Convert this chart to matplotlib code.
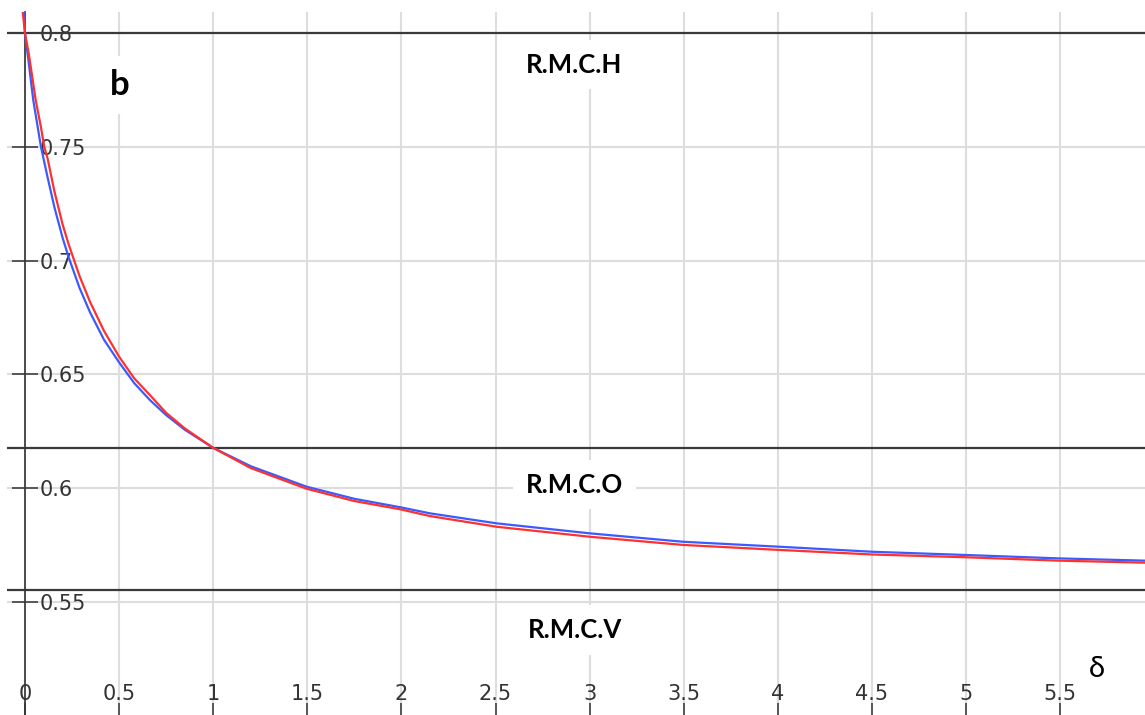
import matplotlib
matplotlib.use("Agg")
import matplotlib.pyplot as plt

# values
delta_blue = [-0.005, 0.0, 0.02, 0.044, 0.085, 0.12, 0.156, 0.2, 0.232, 0.29,
              0.345, 0.42, 0.5, 0.58, 0.664, 0.75, 0.85, 1.0, 1.2, 1.497, 1.75,
              1.993, 2.152, 2.506, 3.002, 3.498, 4.012, 4.504, 4.995, 5.49, 5.951]
b_blue = [0.8094, 0.800, 0.787, 0.7706, 0.750, 0.7367, 0.7236, 0.710, 0.7015,
          0.688, 0.6774, 0.6652, 0.6553, 0.6462, 0.6387, 0.6321, 0.6256, 0.6177,
          0.6096, 0.6006, 0.5953, 0.5916, 0.5889, 0.5845, 0.5801, 0.5764, 0.5742,
          0.5720, 0.5706, 0.5691, 0.5681]

delta_red = [-0.012, 0.0, 0.02, 0.057, 0.085, 0.1026, 0.12, 0.156, 0.2, 0.232,
             0.29, 0.345, 0.42, 0.5, 0.58, 0.664, 0.75, 0.85, 1.0, 1.2, 1.497,
             1.75, 1.993, 2.152, 2.506, 3.002, 3.498, 4.012, 4.504, 4.995, 5.49,
             5.951]
b_red = [0.8094, 0.800, 0.791, 0.7706, 0.7586, 0.750, 0.745, 0.7306, 0.7159,
         0.7072, 0.6932, 0.6820, 0.6691, 0.6578, 0.6483, 0.6409, 0.6331, 0.6262,
         0.6177, 0.6088, 0.5997, 0.5943, 0.5907, 0.5877, 0.5830, 0.5786, 0.5750,
         0.5728, 0.5708, 0.5696, 0.5681, 0.5672]

# regime boundaries
regime_levels = [0.8, 0.6177, 0.5553]
regime_names = ["R.M.C.H", "R.M.C.O", "R.M.C.V"]
regime_label_y = [0.7827, 0.5980, 0.5341]

x_ticks = [0, 0.5, 1, 1.5, 2, 2.5, 3, 3.5, 4, 4.5, 5, 5.5]
x_tick_labels = ["0", "0.5", "1", "1.5", "2", "2.5", "3", "3.5", "4", "4.5", "5", "5.5"]
y_ticks = [0.55, 0.6, 0.65, 0.7, 0.75, 0.8]
y_tick_labels = ["0.55", "0.6", "0.65", "0.7", "0.75", "0.8"]

fig = plt.figure(figsize=(11.45, 7.15), dpi=100)
ax = fig.add_axes([7 / 1145, 0, 1138 / 1145, 703 / 715])

ax.set_xlim(-0.0956, 5.951)
ax.set_ylim(0.50022, 0.80937)

ax.set_xticks(x_ticks)
ax.set_xticklabels(x_tick_labels)
ax.set_yticks(y_ticks)
ax.set_yticklabels(y_tick_labels)
ax.grid(True, color="#dddddd", linewidth=1.5)
ax.set_axisbelow(True)

for side in ["left", "top", "bottom"]:
    ax.spines[side].set_visible(False)
ax.spines["right"].set_position(("data", 0))
ax.spines["right"].set_color("#333333")
ax.spines["right"].set_linewidth(1.2)
ax.yaxis.tick_right()

ax.tick_params(axis="y", direction="inout", length=19, width=1.1, pad=1.0,
               labelsize=15, colors="#333333")
ax.tick_params(axis="x", direction="in", length=8.6, width=1.1, pad=-22.5,
               labelsize=15, colors="#333333")

for level in regime_levels:
    ax.axhline(level, color="#3a3a3a", linewidth=1.6, zorder=2)

ax.plot(delta_blue, b_blue, color="#3b5bff", linewidth=1.6, zorder=3)
ax.plot(delta_red, b_red, color="#ff3030", linewidth=1.6, zorder=3)

box = dict(boxstyle="square,pad=0.5", facecolor="white", edgecolor="none")
for name, y in zip(regime_names, regime_label_y):
    ax.text(2.92, y, name, ha="center", va="baseline", fontsize=18.5,
            fontweight="bold", family=["Lato", "DejaVu Sans"], bbox=box, zorder=4)

ax.text(0.505, 0.7729, "b", ha="center", va="baseline", fontsize=25,
        fontweight="bold", family=["Lato", "DejaVu Sans"],
        bbox=dict(boxstyle="square,pad=0.37", facecolor="white", edgecolor="none"),
        zorder=4)
ax.text(5.694, 0.5171, "δ", ha="center", va="baseline", fontsize=21,
        family=["Lato", "DejaVu Sans"], zorder=4)

fig.savefig("out.png", dpi=100)
